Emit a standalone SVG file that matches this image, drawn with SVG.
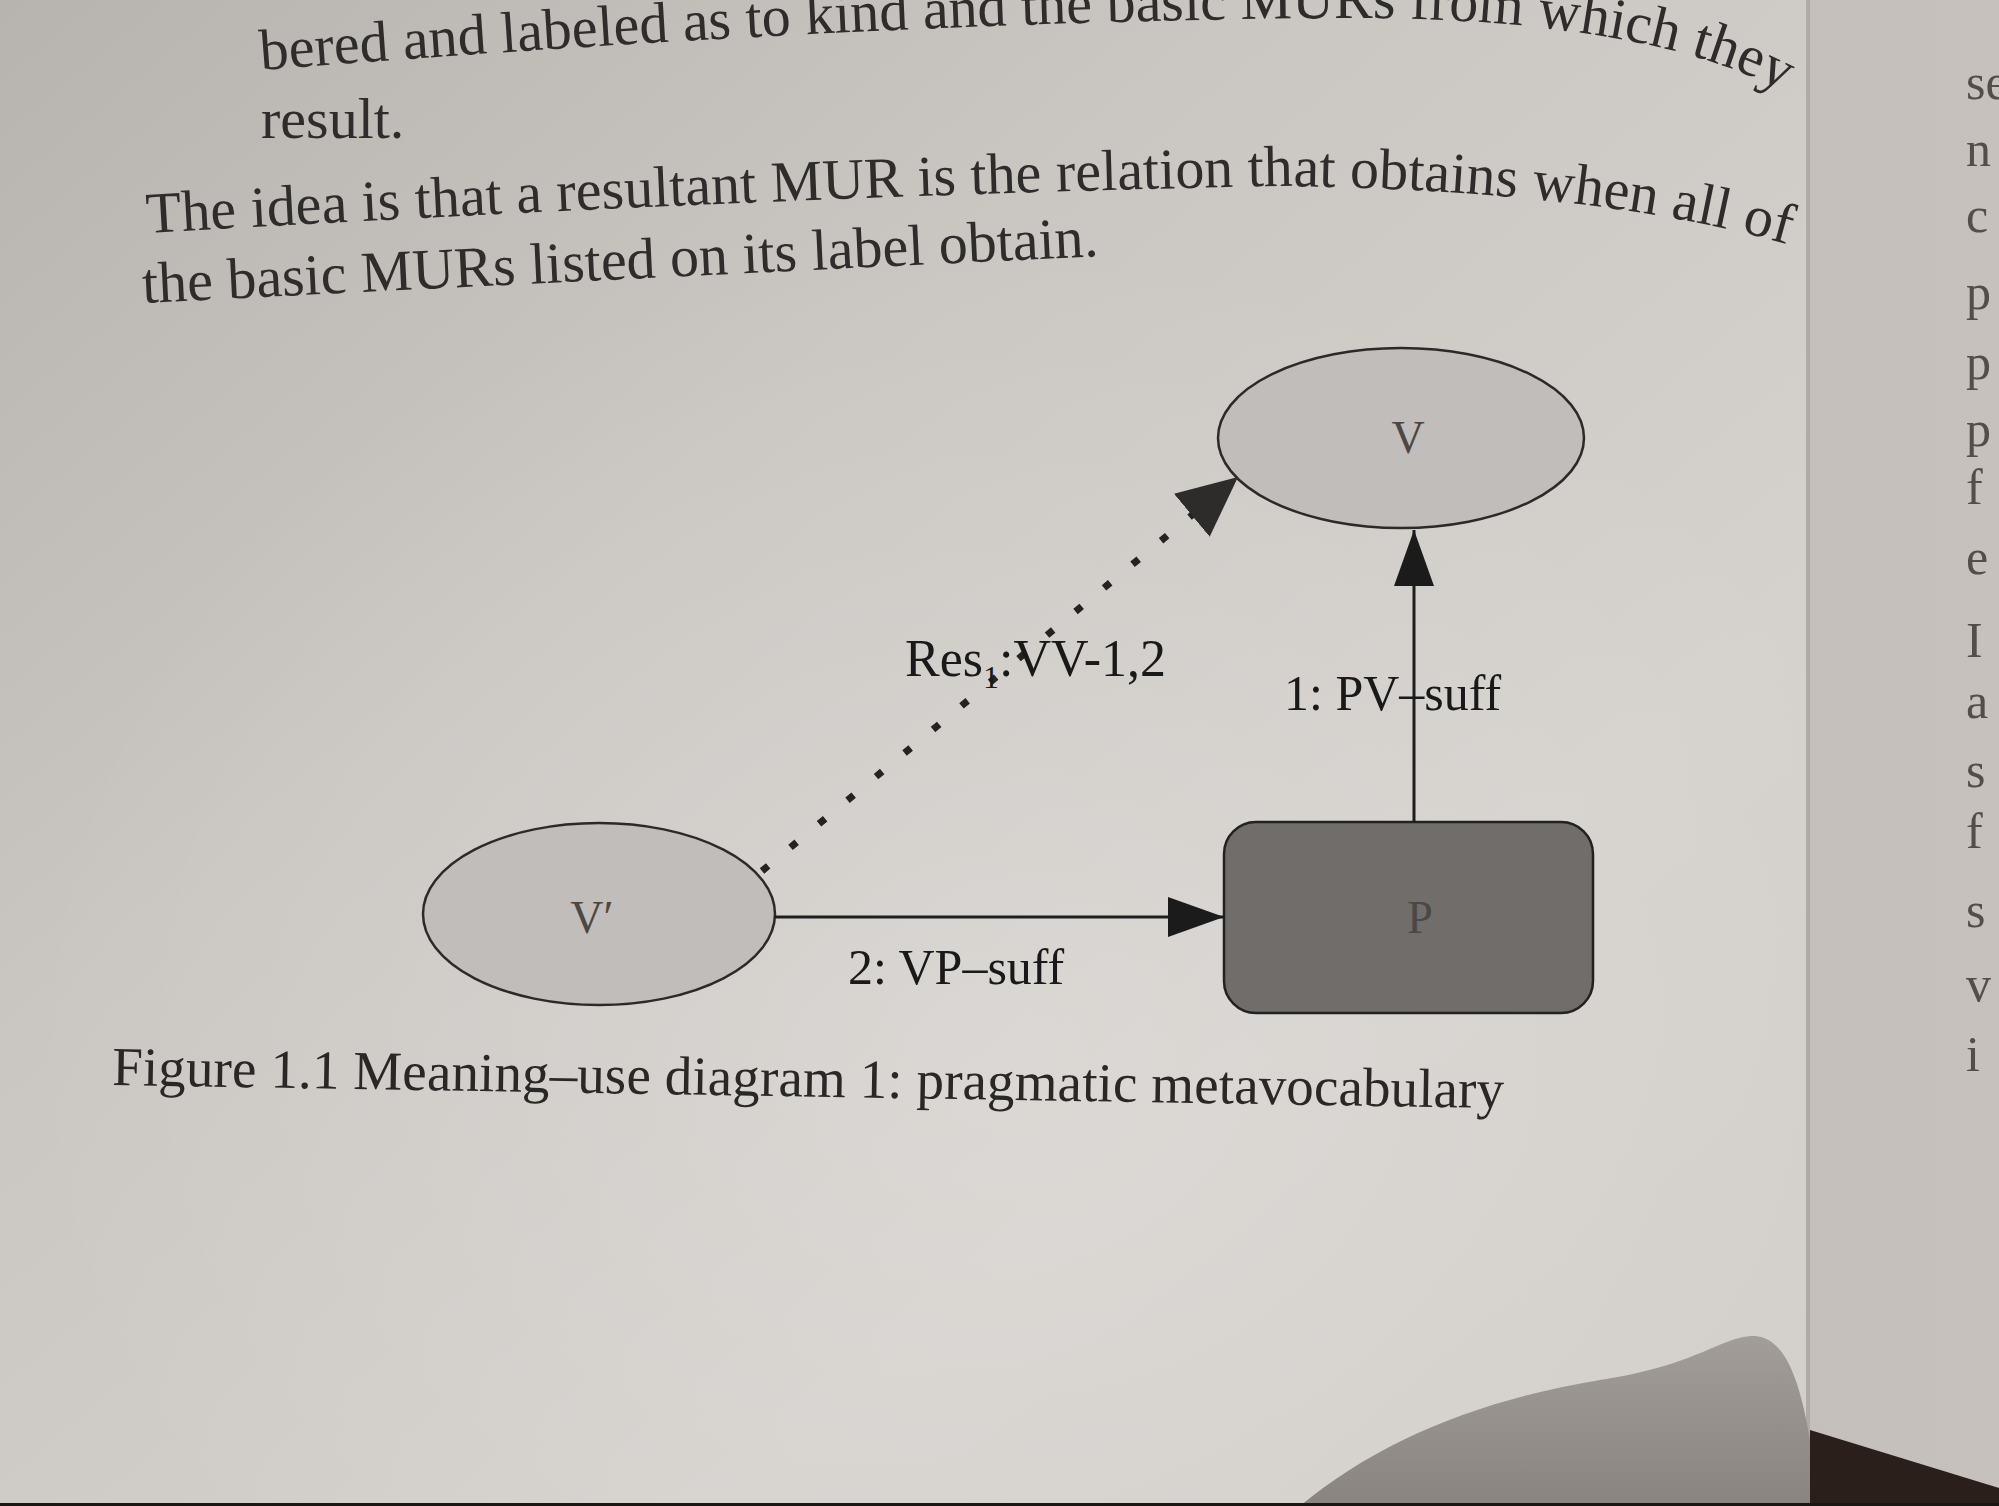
<svg xmlns="http://www.w3.org/2000/svg" width="1999" height="1506" viewBox="0 0 1999 1506">
<defs>
  <linearGradient id="pageL" x1="0" y1="0" x2="1" y2="1">
    <stop offset="0" stop-color="#b7b3af"/>
    <stop offset="0.35" stop-color="#cac6c2"/>
    <stop offset="0.7" stop-color="#d5d1cd"/>
    <stop offset="1" stop-color="#d2cec9"/>
  </linearGradient>
  <radialGradient id="glow" cx="0.55" cy="0.7" r="0.55">
    <stop offset="0" stop-color="#ffffff" stop-opacity="0.18"/>
    <stop offset="1" stop-color="#ffffff" stop-opacity="0"/>
  </radialGradient>
  <linearGradient id="pageR" x1="0" y1="0" x2="1" y2="0">
    <stop offset="0" stop-color="#b6b1ac"/>
    <stop offset="1" stop-color="#c6c1bc"/>
  </linearGradient>
  <linearGradient id="thumb" x1="0" y1="0" x2="0" y2="1">
    <stop offset="0" stop-color="#a29d98"/>
    <stop offset="1" stop-color="#8a8480"/>
  </linearGradient>
  <marker id="headSolid" viewBox="0 0 56 40" refX="56" refY="20" markerWidth="56" markerHeight="40" markerUnits="userSpaceOnUse" orient="auto">
    <path d="M0,0 L56,20 L0,40 Z" fill="#1c1b1b"/>
  </marker>
  <marker id="headBig" viewBox="0 0 60 56" refX="60" refY="28" markerWidth="60" markerHeight="56" markerUnits="userSpaceOnUse" orient="auto">
    <path d="M0,0 L60,28 L0,56 Z" fill="#2e2c2b"/>
  </marker>
  <path id="l1" d="M 261 70 Q 900 20 1350 18 Q 1650 18 1790 95"/>
  <path id="l3" d="M 147 233 Q 800 195 1280 186 Q 1600 190 1790 245"/>
  <path id="l4" d="M 143 303 Q 600 280 1100 256"/>
  <style>
    .body{font-family:"Liberation Serif","DejaVu Serif",serif;font-size:58px;fill:#2f2d2c}
    .lbl{font-family:"Liberation Serif","DejaVu Serif",serif;font-size:50px;fill:#1a1919}
    .res{font-size:52px}
    .sub{font-size:32px}
    .nlbl{font-family:"Liberation Serif","DejaVu Serif",serif;font-size:46px;fill:#4a4745;text-anchor:middle}
    .cap{font-family:"Liberation Serif","DejaVu Serif",serif;font-size:55px;fill:#2a2827}
    .side{font-family:"Liberation Serif","DejaVu Serif",serif;font-size:50px;fill:#524e4b}
    .ell{fill:#c0bdba;stroke:#2c2a29;stroke-width:2.5}
    .box{fill:#716d6a;stroke:#222;stroke-width:2.5}
    .solid{fill:none;stroke:#1e1e1e;stroke-width:3}
    .dotted{fill:none;stroke:#242322;stroke-width:7;stroke-dasharray:8 29}
  </style>
</defs>

<!-- page backgrounds -->
<rect x="0" y="0" width="1999" height="1506" fill="url(#pageR)"/>
<rect x="0" y="0" width="1810" height="1506" fill="url(#pageL)"/>
<rect x="0" y="0" width="1810" height="1506" fill="url(#glow)"/>
<rect x="1806" y="0" width="4" height="1506" fill="#b0aba6"/>

<!-- body text -->
<g id="bodytext">
  <text class="body"><textPath href="#l1">bered and labeled as to kind and the basic MURs from which they</textPath></text>
  <text class="body" x="261" y="138">result.</text>
  <text class="body"><textPath href="#l3">The idea is that a resultant MUR is the relation that obtains when all of</textPath></text>
  <text class="body"><textPath href="#l4">the basic MURs listed on its label obtain.</textPath></text>
</g>

<!-- right page margin letters -->
<g id="rightpage">
  <text class="side" x="1966" y="99">se</text>
  <text class="side" x="1966" y="166">n</text>
  <text class="side" x="1966" y="232">c</text>
  <text class="side" x="1966" y="309">p</text>
  <text class="side" x="1966" y="379">p</text>
  <text class="side" x="1966" y="446">p</text>
  <text class="side" x="1966" y="504">f</text>
  <text class="side" x="1966" y="574">e</text>
  <text class="side" x="1966" y="657">I</text>
  <text class="side" x="1966" y="718">a</text>
  <text class="side" x="1966" y="787">s</text>
  <text class="side" x="1966" y="848">f</text>
  <text class="side" x="1966" y="927">s</text>
  <text class="side" x="1966" y="1001">v</text>
  <text class="side" x="1966" y="1071">i</text>
</g>

<!-- nodes -->
<g id="node-V">
  <ellipse class="ell" cx="1401" cy="438" rx="183" ry="90"/>
  <text class="nlbl" x="1408" y="453">V</text>
</g>
<g id="node-Vprime">
  <ellipse class="ell" cx="599" cy="914" rx="176" ry="91"/>
  <text class="nlbl" x="592" y="933">V′</text>
</g>
<g id="node-P">
  <rect class="box" x="1224" y="822" width="369" height="191" rx="32" ry="32"/>
  <text class="nlbl" x="1420" y="933">P</text>
</g>

<!-- connectors -->
<g id="connectors">
  <path class="solid" d="M 775 917 L 1224 917" marker-end="url(#headSolid)"/>
  <path class="solid" d="M 1414 822 L 1414 530" marker-end="url(#headSolid)"/>
  <path class="dotted" d="M 762 871 L 1238 477" marker-end="url(#headBig)"/>
</g>

<!-- connector labels -->
<g id="labels">
  <text class="lbl res" x="905" y="676">Res<tspan class="sub" dy="12">1</tspan><tspan dy="-12">:VV-1,2</tspan></text>
  <text class="lbl" x="1284" y="710">1: PV–suff</text>
  <text class="lbl" x="848" y="984">2: VP–suff</text>
</g>

<!-- caption -->
<g id="caption">
  <text class="cap" x="112" y="1085" transform="rotate(0.95 112 1085)" textLength="1392" lengthAdjust="spacing">Figure 1.1  Meaning–use diagram 1: pragmatic metavocabulary</text>
</g>

<!-- foreground photo elements -->
<path d="M 1300 1506 C 1380 1440 1480 1400 1600 1380 C 1700 1365 1720 1336 1755 1336 C 1785 1338 1800 1380 1810 1440 L 1810 1506 Z" fill="url(#thumb)"/>
<path d="M 1810 1430 L 1999 1488 L 1999 1506 L 1810 1506 Z" fill="#2a1f1b"/>
<rect x="0" y="1503" width="1999" height="3" fill="#1a1614"/>
</svg>
